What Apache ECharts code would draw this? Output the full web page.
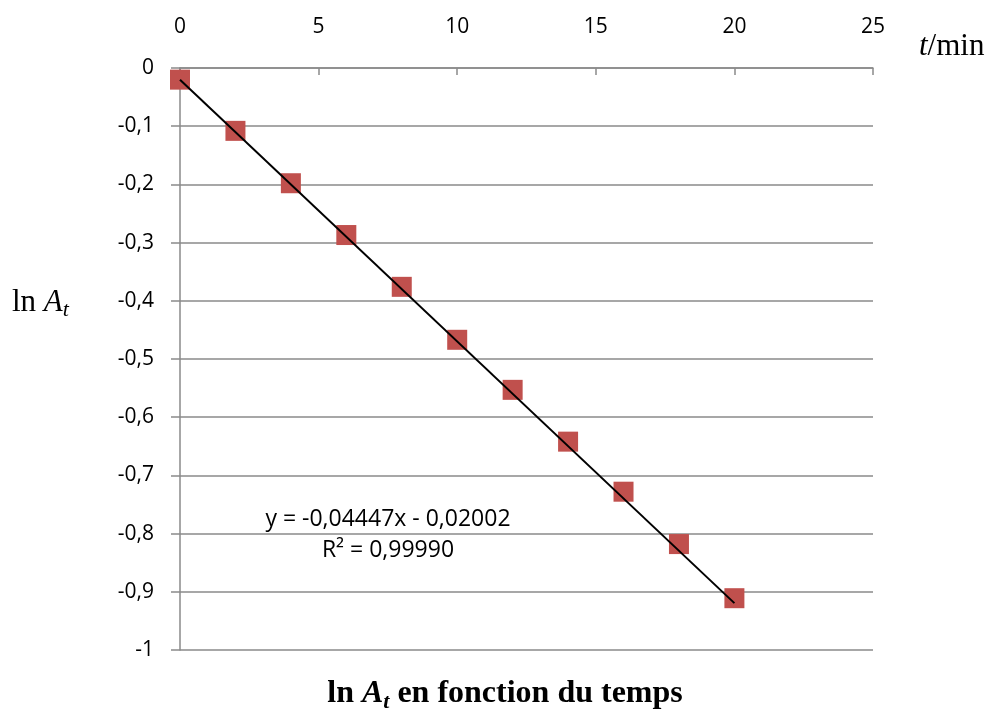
<!DOCTYPE html>
<html>
<head>
<meta charset="utf-8">
<script src="https://cdn.jsdelivr.net/npm/echarts@6/dist/echarts.min.js"></script>
<style>
html,body{margin:0;padding:0;background:#fff;}
#chart{width:985px;height:709px;}
</style>
</head>
<body>
<div id="chart"></div>
<script>
// Data
var tValues = [0, 2, 4, 6, 8, 10, 12, 14, 16, 18, 20];
var lnAValues = [-0.020, -0.108, -0.198, -0.287, -0.376, -0.467, -0.553, -0.642, -0.728, -0.818, -0.911];
// Linear trendline endpoints (from y = -0,04447x - 0,02002 over 0..20)
var trendX = [0, 20];
var trendY = [-0.02002, -0.91942];
var equationText = 'y = -0,04447x - 0,02002';
var r2Text = 'R² = 0,99990';
var xTicks = {min: 0, max: 25, interval: 5};
var yTicks = {min: -1, max: 0, interval: 0.1};

var points = tValues.map(function (t, i) { return [t, lnAValues[i]]; });
var trend = trendX.map(function (t, i) { return [t, trendY[i]]; });

var gray = '#8a8a8a';
var chart = echarts.init(document.getElementById('chart'), null, {renderer: 'canvas'});
chart.setOption({
  backgroundColor: '#ffffff',
  animation: false,
  grid: {left: 180, right: 112, top: 68, bottom: 59, containLabel: false},
  xAxis: {
    type: 'value', position: 'top',
    min: xTicks.min, max: xTicks.max, interval: xTicks.interval,
    axisLine: {show: true, onZero: false, lineStyle: {color: gray, width: 1.5}},
    axisTick: {show: true, inside: true, length: 7, lineStyle: {color: gray, width: 1.5}},
    axisLabel: {margin: 30, fontFamily: 'Open Sans', fontSize: 21, color: '#000'},
    splitLine: {show: false}
  },
  yAxis: {
    type: 'value',
    min: yTicks.min, max: yTicks.max, interval: yTicks.interval,
    axisLine: {show: true, onZero: false, lineStyle: {color: gray, width: 1.5}},
    axisTick: {show: true, inside: false, length: 9, lineStyle: {color: gray, width: 1.5}},
    axisLabel: {
      margin: 26, fontFamily: 'Open Sans', fontSize: 21, color: '#000',
      formatter: function (v) {
        var r = Math.round(v * 10) / 10;
        if (r === 0) return '0';
        return String(r).replace('.', ',');
      }
    },
    splitLine: {show: true, lineStyle: {color: gray, width: 1.5}}
  },
  series: [
    {
      type: 'scatter', data: points, symbol: 'rect', symbolSize: 20,
      itemStyle: {color: '#C0504D', opacity: 1}, z: 2
    },
    {
      type: 'line', data: trend, showSymbol: false, symbol: 'none',
      lineStyle: {color: '#000', width: 2}, z: 3, silent: true
    }
  ],
  graphic: [
    {
      type: 'text', left: 12, top: 287,
      style: {
        text: '{n|ln }{i|A}{s|t}',
        rich: {
          n: {fontFamily: 'Liberation Serif', fontSize: 31, lineHeight: 38, verticalAlign: 'middle', fill: '#000'},
          i: {fontFamily: 'Liberation Serif', fontStyle: 'italic', fontSize: 31, lineHeight: 38, verticalAlign: 'middle', fill: '#000'},
          s: {fontFamily: 'Liberation Serif', fontStyle: 'italic', fontSize: 22, lineHeight: 38, verticalAlign: 'bottom', fill: '#000'}
        }
      }
    },
    {
      type: 'text', left: 919, top: 31,
      style: {
        text: '{i|t}{n|/min}',
        rich: {
          n: {fontFamily: 'Liberation Serif', fontSize: 31, fill: '#000'},
          i: {fontFamily: 'Liberation Serif', fontStyle: 'italic', fontSize: 31, fill: '#000'}
        }
      }
    },
    {
      type: 'text', x: 388, y: 519,
      style: {text: equationText, fontFamily: 'Open Sans', fontSize: 23, fill: '#000', align: 'center', verticalAlign: 'middle'}
    },
    {
      type: 'text', x: 388, y: 550,
      style: {text: r2Text, fontFamily: 'Open Sans', fontSize: 23, fill: '#000', align: 'center', verticalAlign: 'middle'}
    },
    {
      type: 'text', x: 505, y: 694,
      style: {
        text: '{b|ln }{bi|A}{bs|t}{b| en fonction du temps}',
        align: 'center', verticalAlign: 'middle',
        rich: {
          b: {fontFamily: 'Liberation Serif', fontWeight: 'bold', fontSize: 32, lineHeight: 38, verticalAlign: 'middle', fill: '#000'},
          bi: {fontFamily: 'Liberation Serif', fontWeight: 'bold', fontStyle: 'italic', fontSize: 32, lineHeight: 38, verticalAlign: 'middle', fill: '#000'},
          bs: {fontFamily: 'Liberation Serif', fontWeight: 'bold', fontStyle: 'italic', fontSize: 22, lineHeight: 38, verticalAlign: 'bottom', fill: '#000'}
        }
      }
    }
  ]
});
</script>
</body>
</html>
